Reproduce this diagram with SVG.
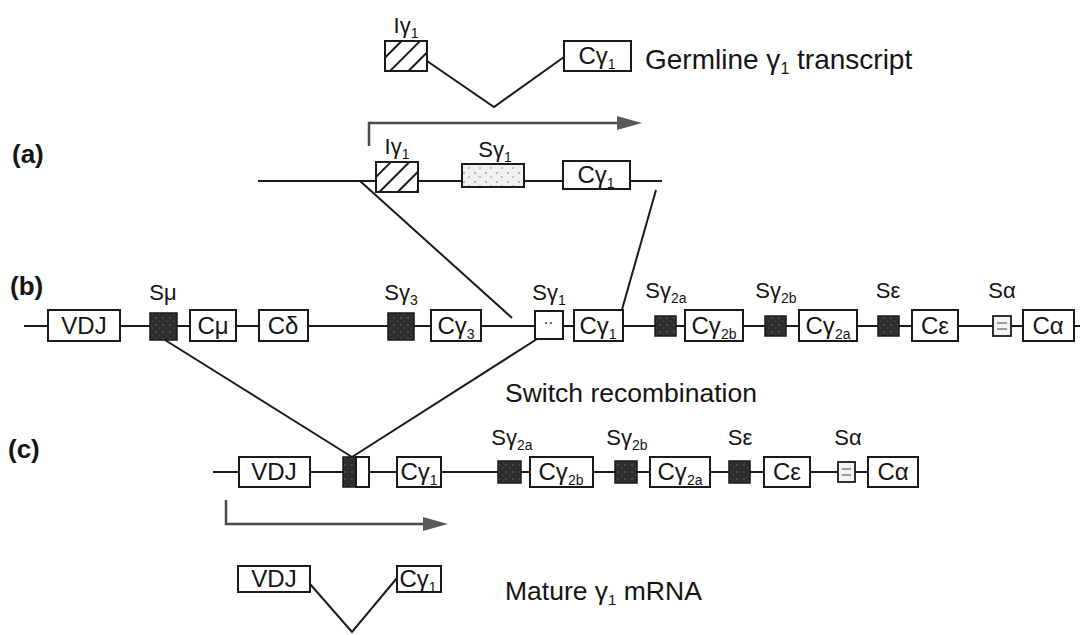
<svg xmlns="http://www.w3.org/2000/svg" width="1084" height="635" viewBox="0 0 1084 635">
<defs>
<pattern id="hatch" patternUnits="userSpaceOnUse" width="13" height="13" patternTransform="rotate(45)">
<rect width="13" height="13" fill="#fff"/>
<line x1="0" y1="0" x2="0" y2="13" stroke="#1a1a1a" stroke-width="4"/>
</pattern>
<pattern id="stip" patternUnits="userSpaceOnUse" width="11" height="9">
<rect width="11" height="9" fill="#f0f0f0"/>
<circle cx="2" cy="2" r="0.8" fill="#666"/>
<circle cx="7" cy="6" r="0.8" fill="#888"/>
</pattern>
<pattern id="dark" patternUnits="userSpaceOnUse" width="7" height="7">
<rect width="7" height="7" fill="#2e2e2e"/>
<circle cx="2" cy="3" r="0.7" fill="#777"/>
<circle cx="5.5" cy="6" r="0.5" fill="#666"/>
</pattern>
<style>
.box{fill:#fff;stroke:#1a1a1a;stroke-width:2}
.dk{fill:url(#dark);stroke:#1a1a1a;stroke-width:1.5}
.lt{fill:#f4f4f4;stroke:#1a1a1a;stroke-width:1.8}
.ln{stroke:#1a1a1a;stroke-width:2;fill:none}
.ar{stroke:#4a4a4a;stroke-width:2.5;fill:none}
.ah{fill:#5a5a5a}
text{font-family:"Liberation Sans",Arial,Helvetica,sans-serif;fill:#141414}
.bl{font-size:24px;text-anchor:middle}
.lb{font-size:22px;text-anchor:middle}
.big{font-size:26.5px}
.pl{font-size:26px;font-weight:bold}
.sub{font-size:14px}
</style>
</defs>

<g id="connectors">
<polyline class="ln" points="427,61 494,107 564,57"/>
<path class="ar" d="M369,146 V123 H622"/>
<polygon class="ah" points="617,116 642,123 617,130"/>
<line class="ln" x1="258" y1="181" x2="662" y2="181"/>
<line class="ln" x1="360" y1="181" x2="512" y2="318"/>
<line class="ln" x1="656" y1="190" x2="621" y2="313"/>
<line class="ln" x1="24" y1="326" x2="1080" y2="326"/>
<line class="ln" x1="165" y1="340" x2="352" y2="457"/>
<line class="ln" x1="537" y1="339" x2="352" y2="457"/>
<line class="ln" x1="213" y1="472" x2="868" y2="472"/>
<path class="ar" d="M226,500 V524 H428"/>
<polygon class="ah" points="423,517 448,524 423,531"/>
<polyline class="ln" points="310,584 352,632 397,578"/>
</g>

<g id="labels">
<text class="pl" x="12" y="163">(a)</text>
<text class="pl" x="10" y="295">(b)</text>
<text class="pl" x="8" y="458">(c)</text>
<text class="big" x="645" y="69" style="font-size:28px">Germline γ<tspan class="sub" dy="5" style="font-size:16px">1</tspan><tspan dy="-5"> transcript</tspan></text>
<text class="big" x="505" y="402">Switch recombination</text>
<text class="big" x="505" y="600">Mature γ<tspan class="sub" dy="5" style="font-size:15px">1</tspan><tspan dy="-5"> mRNA</tspan></text>
</g>

<g id="top-transcript">
<g id="top-Igamma1"><rect x="385" y="41" width="42" height="30" fill="url(#hatch)" stroke="#1a1a1a" stroke-width="2"/>
<text class="lb" x="406" y="33">Iγ<tspan class="sub" dy="5">1</tspan></text></g>
<g id="top-Cgamma1"><rect class="box" x="564" y="41" width="67" height="30"/>
<text class="bl" x="597" y="64">Cγ<tspan class="sub" dy="5">1</tspan></text></g>
</g>

<g id="row-a">
<g id="a-Igamma1"><rect x="376" y="162" width="42" height="30" fill="url(#hatch)" stroke="#1a1a1a" stroke-width="2"/>
<text class="lb" x="397" y="154">Iγ<tspan class="sub" dy="5">1</tspan></text></g>
<g id="a-Sgamma1"><rect x="462" y="164" width="62" height="23" fill="url(#stip)" stroke="#1a1a1a" stroke-width="2"/>
<text class="lb" x="495" y="157">Sγ<tspan class="sub" dy="5">1</tspan></text></g>
<g id="a-Cgamma1"><rect class="box" x="563" y="161" width="67" height="28"/>
<text class="bl" x="596" y="183">Cγ<tspan class="sub" dy="5">1</tspan></text></g>
</g>

<g id="row-b">
<g id="b-VDJ"><rect class="box" x="48" y="310" width="72" height="31"/><text class="bl" x="84" y="334">VDJ</text></g>
<g id="b-Smu"><rect class="dk" x="150" y="313" width="27" height="27"/><text class="lb" x="163" y="300">Sμ</text></g>
<g id="b-Cmu"><rect class="box" x="190" y="310" width="46" height="31"/><text class="bl" x="213" y="334">Cμ</text></g>
<g id="b-Cdelta"><rect class="box" x="259" y="310" width="49" height="31"/><text class="bl" x="283" y="334">Cδ</text></g>
<g id="b-Sgamma3"><rect class="dk" x="388" y="313" width="26" height="27"/><text class="lb" x="401" y="300">Sγ<tspan class="sub" dy="5">3</tspan></text></g>
<g id="b-Cgamma3"><rect class="box" x="431" y="310" width="50" height="31"/><text class="bl" x="456" y="334">Cγ<tspan class="sub" dy="5">3</tspan></text></g>
<g id="b-Sgamma1"><rect class="box" x="535" y="311" width="28" height="28"/><circle cx="546" cy="323" r="1" fill="#333"/><circle cx="551" cy="323" r="1" fill="#333"/><text class="lb" x="549" y="300">Sγ<tspan class="sub" dy="5">1</tspan></text></g>
<g id="b-Cgamma1"><rect class="box" x="574" y="310" width="49" height="31"/><text class="bl" x="598" y="334">Cγ<tspan class="sub" dy="5">1</tspan></text></g>
<g id="b-Sgamma2a"><rect class="dk" x="655" y="316" width="21" height="20"/><text class="lb" x="666" y="298">Sγ<tspan class="sub" dy="5">2a</tspan></text></g>
<g id="b-Cgamma2b"><rect class="box" x="685" y="310" width="58" height="31"/><text class="bl" x="714" y="334">Cγ<tspan class="sub" dy="5">2b</tspan></text></g>
<g id="b-Sgamma2b"><rect class="dk" x="765" y="316" width="21" height="20"/><text class="lb" x="776" y="298">Sγ<tspan class="sub" dy="5">2b</tspan></text></g>
<g id="b-Cgamma2a"><rect class="box" x="799" y="310" width="58" height="31"/><text class="bl" x="828" y="334">Cγ<tspan class="sub" dy="5">2a</tspan></text></g>
<g id="b-Sepsilon"><rect class="dk" x="878" y="316" width="21" height="20"/><text class="lb" x="888" y="298">Sε</text></g>
<g id="b-Cepsilon"><rect class="box" x="912" y="310" width="46" height="31"/><text class="bl" x="935" y="334">Cε</text></g>
<g id="b-Salpha"><rect class="lt" x="993" y="316" width="18" height="20"/><line x1="997" y1="323" x2="1007" y2="323" stroke="#444" stroke-width="1"/><line x1="997" y1="329" x2="1007" y2="329" stroke="#444" stroke-width="1"/><text class="lb" x="1002" y="298">Sα</text></g>
<g id="b-Calpha"><rect class="box" x="1023" y="310" width="51" height="31"/><text class="bl" x="1048" y="334">Cα</text></g>
</g>

<g id="row-c">
<g id="c-VDJ"><rect class="box" x="239" y="457" width="71" height="30"/><text class="bl" x="274" y="480">VDJ</text></g>
<g id="c-switch"><rect class="dk" x="343" y="457" width="13" height="30"/><rect class="box" x="356" y="457" width="13" height="30"/></g>
<g id="c-Cgamma1"><rect class="box" x="397" y="457" width="44" height="30"/><text class="bl" x="419" y="480">Cγ<tspan class="sub" dy="5">1</tspan></text></g>
<g id="c-Sgamma2a"><rect class="dk" x="498" y="461" width="23" height="22"/><text class="lb" x="512" y="445">Sγ<tspan class="sub" dy="5">2a</tspan></text></g>
<g id="c-Cgamma2b"><rect class="box" x="530" y="457" width="63" height="30"/><text class="bl" x="561" y="480">Cγ<tspan class="sub" dy="5">2b</tspan></text></g>
<g id="c-Sgamma2b"><rect class="dk" x="615" y="461" width="22" height="22"/><text class="lb" x="627" y="445">Sγ<tspan class="sub" dy="5">2b</tspan></text></g>
<g id="c-Cgamma2a"><rect class="box" x="650" y="457" width="60" height="30"/><text class="bl" x="680" y="480">Cγ<tspan class="sub" dy="5">2a</tspan></text></g>
<g id="c-Sepsilon"><rect class="dk" x="729" y="461" width="21" height="22"/><text class="lb" x="740" y="445">Sε</text></g>
<g id="c-Cepsilon"><rect class="box" x="764" y="457" width="46" height="30"/><text class="bl" x="787" y="480">Cε</text></g>
<g id="c-Salpha"><rect class="lt" x="838" y="462" width="17" height="20"/><line x1="842" y1="469" x2="851" y2="469" stroke="#444" stroke-width="1"/><line x1="842" y1="475" x2="851" y2="475" stroke="#444" stroke-width="1"/><text class="lb" x="848" y="445">Sα</text></g>
<g id="c-Calpha"><rect class="box" x="868" y="457" width="50" height="30"/><text class="bl" x="893" y="480">Cα</text></g>
</g>

<g id="mature-mRNA">
<g id="m-VDJ"><rect class="box" x="238" y="566" width="72" height="26"/><text class="bl" x="274" y="587">VDJ</text></g>
<g id="m-Cgamma1"><rect class="box" x="397" y="566" width="44" height="26"/><text class="bl" x="418" y="587">Cγ<tspan class="sub" dy="5">1</tspan></text></g>
</g>
</svg>
